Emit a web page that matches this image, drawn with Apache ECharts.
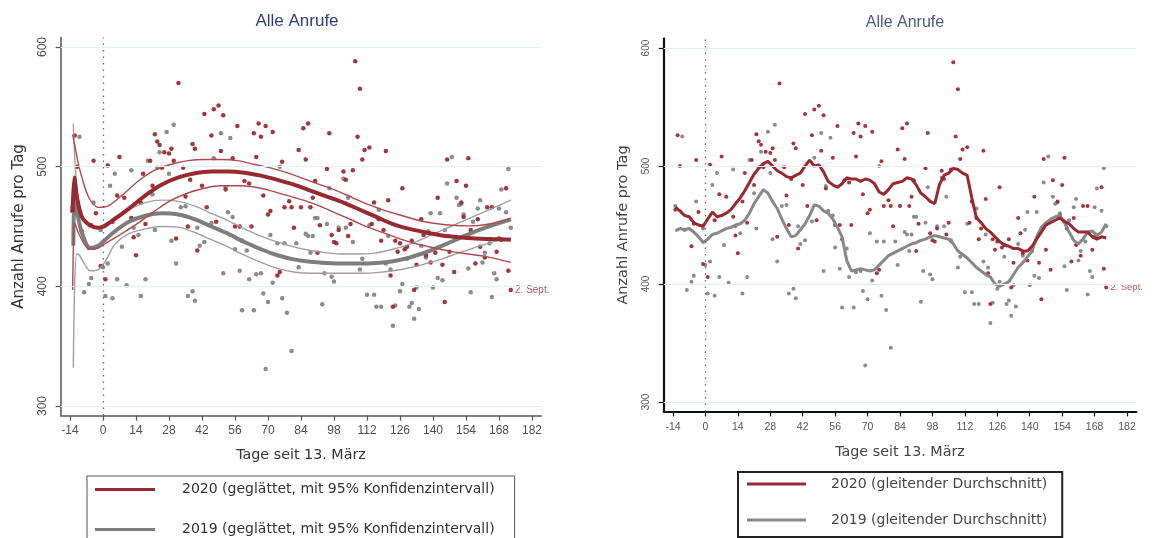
<!DOCTYPE html>
<html>
<head>
<meta charset="utf-8">
<script src="https://cdn.jsdelivr.net/npm/echarts@6/dist/echarts.min.js"></script>
<style>
html,body{margin:0;padding:0;background:#fff;}
#c{width:1156px;height:538px;}
</style>
</head>
<body>
<div id="c"></div>
<script>
// ---------- tick labels ----------
const xTicks = [-14, 0, 14, 28, 42, 56, 70, 84, 98, 112, 126, 140, 154, 168, 182];
const yTicks = [300, 400, 500, 600];

// ---------- daily calls 2020 [day since 13 March, calls] ----------
const pts2020 = [
[-13,463],[-12,526],[-11,500],[-9,446],[-6,432],[-5,451],[-4,505],[-3,461],[-1,417],[1,406],
[2,501],[4,454],[6,476],[7,508],[9,474],[12,457],[13,441],[14,426],[16,470],[17,494],
[18,452],[20,505],[21,484],[22,527],[23,521],[24,518],[25,499],[26,512],[28,511],[29,515],
[30,505],[31,440],[32,570],[34,499],[35,475],[36,450],[37,489],[38,519],[39,515],[40,430],
[42,484],[43,544],[44,466],[46,526],[47,548],[48,454],[49,551],[50,513],[51,543],[52,481],
[55,507],[56,450],[57,534],[58,450],[59,438],[60,488],[62,486],[63,450],[64,528],[65,508],
[66,536],[67,525],[68,476],[69,534],[70,460],[71,463],[72,529],[74,409],[75,412],[76,504],
[77,466],[79,471],[80,466],[81,449],[83,514],[84,466],[85,532],[86,506],[87,536],[88,466],
[89,474],[90,488],[91,428],[92,451],[95,498],[96,528],[97,443],[98,437],[99,436],[100,447],
[102,496],[103,489],[104,442],[105,452],[106,497],[107,588],[108,525],[109,565],[110,506],[111,514],
[113,516],[114,452],[115,470],[117,456],[118,438],[119,447],[120,513],[121,472],[122,409],[123,383],
[124,438],[125,429],[126,436],[127,482],[128,431],[129,433],[131,438],[132,397],[133,418],[135,456],
[136,443],[137,426],[139,420],[141,428],[142,474],[144,418],[145,387],[146,506],[147,429],[149,412],
[150,488],[152,470],[153,458],[154,484],[155,507],[156,447],[158,419],[159,456],[160,433],[162,424],
[163,466],[165,466],[167,429],[168,440],[169,439],[171,482],[172,413],[173,397]
];

// ---------- daily calls 2019 ----------
const pts2019 = [
[-13,466],[-10,525],[-8,395],[-6,402],[-5,407],[-4,470],[-1,447],[0,416],[1,392],[2,419],
[3,484],[4,390],[5,494],[6,406],[8,433],[10,401],[12,497],[13,449],[15,443],[16,392],
[18,406],[19,505],[21,477],[22,447],[23,499],[24,512],[27,529],[28,494],[29,438],[30,535],
[31,419],[33,466],[35,467],[36,392],[38,396],[39,388],[40,449],[41,434],[43,437],[46,453],
[47,507],[50,528],[51,411],[52,483],[53,462],[54,524],[55,458],[56,431],[58,413],[59,380],
[61,430],[62,406],[64,380],[65,410],[67,411],[68,394],[69,331],[70,387],[71,443],[72,403],
[74,436],[75,500],[76,390],[77,436],[78,378],[80,346],[82,436],[83,416],[86,444],[87,442],
[88,428],[89,442],[90,457],[91,457],[93,385],[94,411],[95,452],[96,482],[97,408],[98,404],
[100,449],[102,490],[103,449],[104,474],[106,437],[109,414],[110,423],[112,393],[113,451],[115,393],
[116,383],[117,464],[118,383],[120,419],[121,442],[122,414],[123,367],[124,384],[126,396],[127,402],
[129,423],[130,383],[131,386],[132,373],[133,399],[134,381],[135,434],[137,424],[138,446],[139,461],
[140,399],[142,407],[143,461],[144,405],[145,447],[146,486],[148,508],[150,474],[151,468],[152,469],
[153,460],[155,415],[156,395],[157,454],[159,465],[160,472],[161,420],[162,428],[164,436],[165,391],
[166,411],[167,406],[168,465],[169,481],[171,462],[172,498],[173,449]
];

// ---------- smoothed fit with 95% CI (left panel) ----------
const fit2020 = [[-12.9,462],[-12.2,491],[-11,474],[-9,458],[-5.5,451],[-2,449],[0,450],[4,455],[11,465],[18,476],[25,485],[32,491],[39,494.5],[46,496],[53,496],[60,495],[67,492.5],[74,489],[81,485],[88,480],[95,475],[102,470],[109,464],[116,458],[123,452],[130,448],[137,445],[144,442.5],[151,441],[158,440],[165,439.5],[173,439]];
const hi2020 = [[-12.9,527],[-12.2,520],[-9.8,497],[-6,474],[-2,466],[2,467],[8,476],[15,488],[22,497],[29,502],[36,505],[43,506],[50,506],[57,505],[64,502],[71,499],[78,495],[85,490],[92,485],[99,480],[106,474],[113,468],[120,463],[127,459],[134,455],[141,452.5],[148,451],[155,450.5],[162,451.5],[168,454],[173,457]];
const lo2020 = [[-12.9,397],[-12.5,440],[-12.1,453],[-10.3,444],[-7.5,434],[-5,431],[-2,432],[2,437],[8,444],[15,453],[22,463],[29,472],[36,478],[43,482],[50,484],[57,484],[64,483],[71,480],[78,476],[85,472],[92,467],[99,461],[106,455],[113,449],[120,444],[127,439],[134,435],[141,432],[148,429],[155,427],[162,425],[168,422.5],[173,420]];
const fit2019 = [[-12.6,434],[-12.1,478],[-11,462],[-9,445],[-5.5,432],[-2,434],[1,439],[5,446],[11,454],[18,459],[25,461],[32,460],[39,456],[46,450],[53,444],[60,437],[67,431],[74,426],[81,422.5],[88,420.5],[95,419.5],[102,419],[109,419],[116,419.5],[123,421],[130,424],[137,428.5],[144,434],[151,440],[158,446],[165,451],[173,456]];
const hi2019 = [[-12.6,536],[-12.1,512],[-11,480],[-9,461],[-6,451],[-2,448],[1,449],[5,456],[11,464],[18,470],[25,472],[32,471],[39,467],[46,461],[53,455],[60,448],[67,442],[74,437],[81,433],[88,430],[95,428],[102,427],[109,427],[116,428],[123,431],[130,435],[137,441],[144,447],[151,453],[158,459],[165,465],[173,472]];
const lo2019 = [[-12.6,332],[-12.1,395],[-11.2,427],[-10,426],[-8,419],[-5.4,413],[-2,414],[1,421],[5,435],[11,444],[18,448],[25,450],[32,449.5],[39,445],[46,439],[53,433],[60,426],[67,420],[74,415],[81,412],[88,411],[95,411],[102,411],[109,411],[116,411.5],[123,413],[130,415.5],[137,419],[144,423],[151,428],[158,432.5],[165,437],[173,440.5]];

// ---------- moving averages (right panel) ----------
const ma2020 = [[-13,465],[-11,462],[-9,458],[-7,457],[-5,452],[-3,450],[-1,449],[1,455],[3,461],[5,457],[7,458],[9,460],[11,463],[13,468],[15,473],[17,479],[19,486],[21,493],[23,498],[25,502],[27,504],[29,500],[31,496],[33,494],[35,491],[37,490],[39,492],[41,494],[43,500],[45,505],[47,500],[49,501],[51,495],[53,487],[55,484],[57,482],[59,485],[61,490],[63,489],[65,489],[67,487],[69,489],[71,488],[73,485],[75,478],[77,476],[79,480],[81,485],[83,486],[85,487],[87,490],[89,489],[91,484],[93,477],[95,474],[97,470],[99,468],[101,484],[103,492],[105,494],[107,498],[109,497],[111,494],[113,492],[115,473],[117,456],[119,452],[121,447],[123,444],[125,440],[127,436],[129,433],[131,432],[133,430],[135,430],[137,428],[139,428],[141,432],[143,438],[145,444],[147,450],[149,452],[151,454],[153,456],[155,453],[157,451],[159,447],[161,444],[163,444],[165,444],[167,440],[169,438],[171,440],[173,439]];
const ma2019 = [[-13,445],[-11,447],[-9,446],[-7,447],[-5,444],[-3,440],[-1,435],[1,438],[3,442],[5,443],[7,445],[9,447],[11,448],[13,450],[15,451],[17,454],[19,460],[21,468],[23,474],[25,480],[27,477],[29,470],[31,464],[33,455],[35,447],[37,440],[39,441],[41,446],[43,451],[45,458],[47,467],[49,466],[51,462],[53,460],[55,455],[57,448],[59,440],[61,420],[63,411],[65,412],[67,413],[69,412],[71,411],[73,412],[75,416],[77,420],[79,424],[81,426],[83,428],[85,430],[87,432],[89,434],[91,435],[93,437],[95,438],[97,440],[99,441],[101,440],[103,439],[105,438],[107,434],[109,428],[111,425],[113,422],[115,418],[117,414],[119,411],[121,408],[123,406],[125,400],[127,398],[129,400],[131,402],[133,408],[135,414],[137,418],[139,423],[141,428],[143,440],[145,448],[147,452],[149,455],[151,457],[153,458],[155,452],[157,444],[159,437],[161,434],[163,438],[165,444],[167,445],[169,441],[171,444],[173,451]];

const title = 'Alle Anrufe';
const xName = 'Tage seit 13. März';
const yName = 'Anzahl Anrufe pro Tag';
const lastLabel = '2. Sept.';
const nFit20 = '2020 (geglättet, mit 95% Konfidenzintervall)';
const nFit19 = '2019 (geglättet, mit 95% Konfidenzintervall)';
const nMa20 = '2020 (gleitender Durchschnitt)';
const nMa19 = '2019 (gleitender Durchschnitt)';

const RED = '#972a30';
const GRAY = '#7d7d7d';
const FONT = 'Liberation Sans, Arial, sans-serif';
const WIDE = 'DejaVu Sans, Verdana, sans-serif';

function withLabel(pts, size){
  return pts.map((p, i) => i === pts.length - 1 ? {
    value: p,
    label: {show: true, position: 'right', distance: 2, formatter: lastLabel, color: '#b04a50', fontSize: size, fontFamily: FONT}
  } : p);
}

function xAxis(idx, o){
  return {
    type: 'value', gridIndex: idx, min: -18, max: 186,
    name: xName, nameLocation: 'middle', nameGap: o.nameGap,
    nameTextStyle: {fontSize: o.nameSize, color: o.nameColor, fontFamily: WIDE},
    axisLine: {show: true, onZero: false, lineStyle: {color: o.lineColor, width: o.lineWidth}},
    axisTick: {show: true, length: 5, customValues: xTicks, lineStyle: {color: o.lineColor, width: 1.2}},
    axisLabel: {customValues: xTicks, fontSize: o.labelSize, color: o.labelColor, margin: o.margin, fontFamily: FONT},
    splitLine: {show: false}
  };
}
function yAxis(idx, o){
  return {
    type: 'value', gridIndex: idx, min: 292, max: 608,
    name: yName, nameLocation: 'middle', nameGap: o.nameGap,
    nameTextStyle: {fontSize: o.nameSize, color: o.nameColor, fontFamily: WIDE},
    axisLine: {show: true, onZero: false, lineStyle: {color: o.lineColor, width: o.lineWidth}},
    axisTick: {show: true, length: 5, customValues: yTicks, lineStyle: {color: o.lineColor, width: 1.2}},
    axisLabel: {customValues: yTicks, rotate: 90, fontSize: o.labelSize, color: o.labelColor, margin: o.margin, fontFamily: FONT},
    splitLine: {show: false}
  };
}

function guides(idx){
  return {
    type: 'line', xAxisIndex: idx, yAxisIndex: idx, data: [], silent: true,
    markLine: {
      symbol: 'none', silent: true, animation: false, label: {show: false},
      data: yTicks.map(v => ({yAxis: v, lineStyle: {color: '#e3eeee', width: 1, type: 'solid'}}))
        .concat([{xAxis: 0, lineStyle: {color: '#6a6a6a', width: 1.3, type: [1.5, 5]}}])
    }
  };
}

function scatter(idx, name, data, color, size){
  return {type: 'scatter', name: name, xAxisIndex: idx, yAxisIndex: idx, data: data,
    symbolSize: size, itemStyle: {color: color, opacity: 0.95}, silent: true};
}
function line(idx, name, data, color, width, smooth){
  return {type: 'line', name: name, xAxisIndex: idx, yAxisIndex: idx, data: data,
    showSymbol: false, symbol: 'none', smooth: smooth,
    lineStyle: {color: color, width: width}, itemStyle: {color: color}, silent: true};
}

const chart = echarts.init(document.getElementById('c'), null, {renderer: 'canvas'});
chart.setOption({
  animation: false,
  backgroundColor: '#fff',
  textStyle: {fontFamily: FONT},
  title: [
    {text: title, left: 292, textAlign: 'center', top: 8, textStyle: {fontSize: 17, fontWeight: 'normal', color: '#2c3f7c', fontFamily: FONT}},
    {text: title, left: 900, textAlign: 'center', top: 10, textStyle: {fontSize: 16, fontWeight: 'normal', color: '#4a5a8c', fontFamily: FONT}}
  ],
  grid: [
    {left: 60.6, top: 37.4, width: 480.8, height: 378.2, containLabel: false},
    {left: 663.7, top: 38.6, width: 472.6, height: 372.8, containLabel: false}
  ],
  xAxis: [
    xAxis(0, {nameGap: 33, nameSize: 14.3, nameColor: '#333', lineColor: '#555', lineWidth: 1.5, labelSize: 12, labelColor: '#4d4d4d', margin: 9}),
    xAxis(1, {nameGap: 34, nameSize: 14.3, nameColor: '#444', lineColor: '#111', lineWidth: 2.2, labelSize: 10.5, labelColor: '#555', margin: 10})
  ],
  yAxis: [
    yAxis(0, {nameGap: 34, nameSize: 15, nameColor: '#333', lineColor: '#555', lineWidth: 1.5, labelSize: 12, labelColor: '#4d4d4d', margin: 12}),
    yAxis(1, {nameGap: 33, nameSize: 14.5, nameColor: '#444', lineColor: '#111', lineWidth: 2.2, labelSize: 10, labelColor: '#555', margin: 12})
  ],
  legend: [
    {
      data: [{name: nFit20, itemStyle: {color: RED}}, {name: nFit19, itemStyle: {color: GRAY}}],
      orient: 'vertical', left: 87, top: 476, height: 90, icon: 'rect', itemWidth: 60, itemHeight: 3, itemGap: 23,
      padding: [5, 20, 12, 8], borderColor: '#555', borderWidth: 1, selectedMode: false,
      formatter: n => '{t|' + n + '}',
      textStyle: {color: '#333', fontSize: 14, lineHeight: 17, rich: {t: {padding: [0, 0, 0, 22], fontSize: 14, color: '#333', fontFamily: WIDE}}}
    },
    {
      data: [{name: nMa20, itemStyle: {color: RED}}, {name: nMa19, itemStyle: {color: '#888'}}],
      orient: 'vertical', left: 738, top: 472, height: 70, icon: 'rect', itemWidth: 59, itemHeight: 3, itemGap: 20,
      padding: [4, 15, 9, 9], borderColor: '#222', borderWidth: 2, selectedMode: false,
      formatter: n => '{t|' + n + '}',
      textStyle: {color: '#444', fontSize: 14, lineHeight: 16, rich: {t: {padding: [0, 0, 0, 20], fontSize: 14, color: '#444', fontFamily: WIDE}}}
    }
  ],
  series: [
    guides(0),
    scatter(0, 'Tage 2019', pts2019, '#858585', 4.5),
    scatter(0, 'Tage 2020', withLabel(pts2020, 10), '#9c2b31', 4.5),
    line(0, '2019 KI oben', hi2019, '#a0a0a0', 1.4, 0.3),
    line(0, '2019 KI unten', lo2019, '#a0a0a0', 1.4, 0.3),
    line(0, nFit19, fit2019, GRAY, 4, 0.3),
    line(0, '2020 KI oben', hi2020, '#ad4a50', 1.4, 0.3),
    line(0, '2020 KI unten', lo2020, '#ad4a50', 1.4, 0.3),
    line(0, nFit20, fit2020, RED, 4, 0.3),
    guides(1),
    scatter(1, 'Tage 2019 ', pts2019, '#858585', 4),
    scatter(1, 'Tage 2020 ', withLabel(pts2020, 9.5), '#9c2b31', 4),
    line(1, nMa19, ma2019, '#888', 3, false),
    line(1, nMa20, ma2020, RED, 3, false)
  ]
});
</script>
</body>
</html>
